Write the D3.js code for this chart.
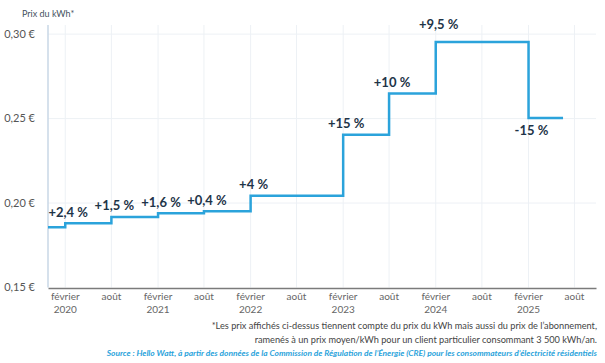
<!DOCTYPE html>
<html lang="fr">
<head>
  <meta charset="UTF-8">
  <title>Prix du kWh</title>
  <script src="https://cdn.jsdelivr.net/npm/d3@7"></script>
  <style>
    body { margin: 0; background: #fff; }
    svg { font-family: Lato, "Open Sans", sans-serif; }
  </style>
</head>
<body>
<svg></svg>
<script>
  // prix moyen du kWh (abonnement inclus)
  const priceDates = ["2019-11-25", "2020-02-01", "2020-08-01", "2021-02-01", "2021-08-01",
    "2022-02-01", "2023-02-01", "2023-08-01", "2024-02-01", "2025-02-01", "2025-06-17"]
  const priceValues = [0.1857, 0.1881, 0.1918, 0.1940, 0.1952, 0.2043, 0.2405, 0.2649, 0.2954, 0.2504, 0.2504]
  // variation affichée à chaque hausse / baisse (à partir du 2e point)
  const changeLabels = ["+2,4 %", "+1,5 %", "+1,6 %", "+0,4 %", "+4 %", "+15 %", "+10 %", "+9,5 %", "-15 %"]

  const tickDates = ["2020-02-01", "2020-08-01", "2021-02-01", "2021-08-01", "2022-02-01", "2022-08-01",
    "2023-02-01", "2023-08-01", "2024-02-01", "2024-08-01", "2025-02-01", "2025-08-01"]
  const tickMonths = ["février", "août", "février", "août", "février", "août",
    "février", "août", "février", "août", "février", "août"]
  const tickYears = ["2020", "", "2021", "", "2022", "", "2023", "", "2024", "", "2025", ""]
  const yTicks = [0.15, 0.20, 0.25, 0.30]

  const width = 605, height = 363
  const margin = ({top: 25, right: 9, bottom: 76, left: 48})
  const blue = "#2ba3db", ink = "#1e3448", grid = "#edf1f5"

  const parse = d3.utcParse("%Y-%m-%d")
  const data = priceDates.map((d, i) => ({date: parse(d), value: priceValues[i]}))

  const svg = d3.select("svg")
      .attr("width", width)
      .attr("height", height)
      .attr("viewBox", [0, 0, width, height])

  const x = d3.scaleUtc()
      .domain([parse("2019-11-25"), parse("2025-10-25")])
      .range([margin.left, width - margin.right])

  const y = d3.scaleLinear()
      .domain([0.15, 0.3054])
      .range([height - margin.bottom + 0.5, margin.top])

  const fmtY = v => d3.format(".2f")(v).replace(".", ",") + " €"

  // grille
  svg.append("g")
      .selectAll("line")
      .data(tickDates.map(parse))
      .join("line")
      .attr("x1", d => x(d)).attr("x2", d => x(d))
      .attr("y1", margin.top).attr("y2", y(0.15))
      .attr("stroke", grid)

  svg.append("g")
      .selectAll("line")
      .data(yTicks.slice(1))
      .join("line")
      .attr("x1", margin.left).attr("x2", width - margin.right)
      .attr("y1", d => y(d)).attr("y2", d => y(d))
      .attr("stroke", grid)

  // axe vertical
  svg.append("line")
      .attr("x1", margin.left).attr("x2", margin.left)
      .attr("y1", margin.top).attr("y2", y(0.15))
      .attr("stroke", "#c9d7e6")
      .attr("stroke-width", 1.5)

  svg.append("g")
      .selectAll("text")
      .data(yTicks)
      .join("text")
      .attr("x", 35)
      .attr("y", d => y(d))
      .attr("dy", "0.35em")
      .attr("text-anchor", "end")
      .attr("fill", "#555")
      .attr("font-size", 11)
      .text(fmtY)

  svg.append("text")
      .attr("x", 22).attr("y", 14)
      .attr("dy", "0.35em")
      .attr("fill", "#44515e")
      .attr("font-size", 9)
      .text("Prix du kWh*")

  // axe horizontal
  const xAxis = svg.append("g")
      .attr("transform", `translate(0,${y(0.15) + 0.5})`)
      .call(d3.axisBottom(x).tickValues(tickDates.map(parse)).tickSize(0).tickFormat(""))
  xAxis.select(".domain").attr("stroke", "#7b7b7b").attr("stroke-width", 1.5)

  const tickG = svg.append("g")
      .selectAll("g")
      .data(tickDates)
      .join("g")
      .attr("transform", d => `translate(${x(parse(d))},0)`)
      .attr("fill", "#666")
      .attr("font-size", 10)
      .attr("text-anchor", "middle")
  tickG.append("text").attr("y", 300).text((d, i) => tickMonths[i])
  tickG.append("text").attr("y", 313).text((d, i) => tickYears[i])

  // courbe en escalier
  const line = d3.line()
      .curve(d3.curveStepAfter)
      .x(d => x(d.date))
      .y(d => y(d.value))

  svg.append("path")
      .datum(data)
      .attr("fill", "none")
      .attr("stroke", blue)
      .attr("stroke-width", 2.5)
      .attr("d", line)

  // étiquettes de variation
  const lift = (label, i) => label.startsWith("-") ? -13 : (i === 7 ? 17 : 11)
  svg.append("g")
      .selectAll("text")
      .data(changeLabels)
      .join("text")
      .attr("x", (d, i) => x(data[i + 1].date) + 3)
      .attr("y", (d, i) => y(data[i + 1].value) - lift(d, i))
      .attr("dy", "0.35em")
      .attr("text-anchor", "middle")
      .attr("fill", ink)
      .attr("font-size", 13)
      .attr("font-weight", 700)
      .text(d => d.replace(" ", "\u202f"))

  // notes
  const notes = svg.append("g")
      .attr("text-anchor", "end")
      .attr("font-size", 9.2)
      .attr("fill", "#444")
  notes.append("text").attr("x", 597).attr("y", 329)
      .text("*Les prix affichés ci-dessus tiennent compte du prix du kWh mais aussi du prix de l’abonnement,")
  notes.append("text").attr("x", 597).attr("y", 343)
      .text("ramenés à un prix moyen/kWh pour un client particulier consommant 3 500 kWh/an.")

  svg.append("text")
      .attr("x", 597).attr("y", 356)
      .attr("text-anchor", "end")
      .attr("font-size", 8.4)
      .attr("font-style", "italic")
      .attr("font-weight", 700)
      .attr("fill", blue)
      .text("Source : Hello Watt, à partir des données de la Commission de Régulation de l’Énergie (CRE) pour les consommateurs d’électricité résidentiels")
</script>
</body>
</html>
